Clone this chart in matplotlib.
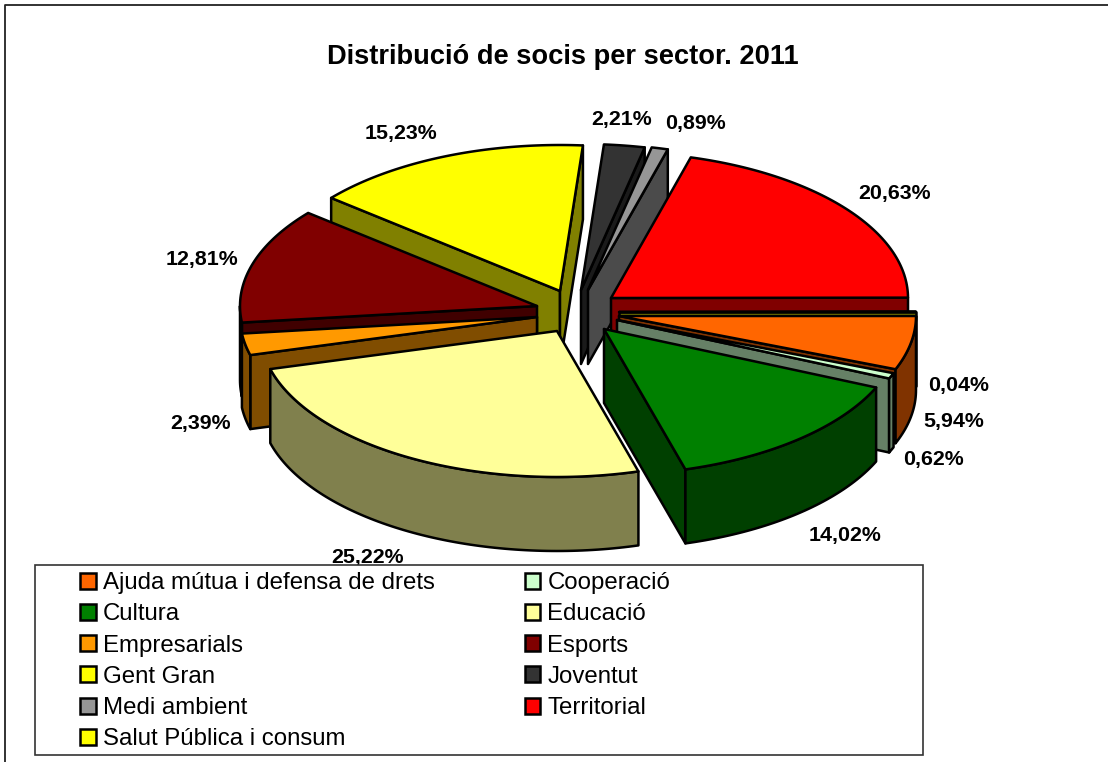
import numpy as np
import matplotlib
matplotlib.use('Agg')
import matplotlib.pyplot as plt
from matplotlib.colors import to_rgb
from matplotlib.patches import Patch, Polygon, Rectangle

plt.rcParams['font.family'] = ['Liberation Sans', 'DejaVu Sans']

sectors = ['Ajuda mútua i defensa de drets', 'Cooperació', 'Cultura', 'Educació',
           'Empresarials', 'Esports', 'Gent Gran', 'Joventut', 'Medi ambient',
           'Territorial', 'Salut Pública i consum']
shares = [5.94, 0.62, 14.02, 25.22, 2.39, 12.81, 15.23, 2.21, 0.89, 20.63, 0.04]
colors = ['#FF6600', '#CCFFCC', '#008000', '#FFFF99', '#FF9900', '#800000',
          '#FFFF00', '#333333', '#969696', '#FF0000', '#FFFF00']

# layout in pixels: where each exploded slice has its tip, and its label centre
tips = [(619, 316), (617, 320), (604, 329), (557, 331), (537, 317), (537, 306),
        (560, 291), (581, 290), (588, 290), (611, 298), (619, 312)]
label_pos = [(954, 421), (934, 459), (845, 536), (368, 557), (201, 423), (202, 259),
             (401, 134), (622, 120), (695, 123), (895, 194), (959, 386)]
draw_order = [7, 8, 6, 9, 10, 0, 1, 5, 4, 2, 3]
legend_order = [0, 2, 4, 6, 8, 10, 1, 3, 5, 7, 9]

RX, RY, DEPTH = 297, 146, 74
LW = 1.8


def rim(tip, a, b):
    t = np.radians(np.linspace(a, b, max(2, int(abs(b - a)) + 2)))
    return np.column_stack([tip[0] + RX * np.cos(t), tip[1] + RY * np.sin(t)])


def wall(ax, pts, colour):
    low = pts[::-1] + [0, DEPTH]
    ax.add_patch(Polygon(np.vstack([pts, low]), closed=True, fc=colour, ec='black',
                         lw=LW, joinstyle='round', zorder=2))


def slice3d(ax, tip, a, b, colour):
    dark = tuple(c * 0.5 for c in to_rgb(colour))
    tip_pt = np.array([tip], dtype=float)
    if np.cos(np.radians(a)) < 0:
        wall(ax, np.vstack([tip_pt, rim(tip, a, a)[:1]]), dark)
    if np.cos(np.radians(b)) > 0:
        wall(ax, np.vstack([tip_pt, rim(tip, b, b)[:1]]), dark)
    # outer wall, only the part of the rim that faces the viewer
    lo, hi = max(a, 0), min(b, 180)
    if hi > lo:
        wall(ax, rim(tip, lo, hi), dark)
    ax.add_patch(Polygon(np.vstack([tip_pt, rim(tip, a, b)]), closed=True, fc=colour,
                         ec='black', lw=LW, joinstyle='round', zorder=2))


fig = plt.figure(figsize=(11.08, 7.62), dpi=100)
ax = fig.add_axes([0, 0, 1, 1])
ax.set_xlim(0, 1108)
ax.set_ylim(762, 0)
ax.axis('off')

# chart frame, only top and left are inside the picture
ax.plot([5, 5, 1108], [762, 5, 5], color='#222222', lw=1.3, zorder=1)

ax.text(563, 57, 'Distribució de socis per sector. 2011', fontsize=19.6,
        fontweight='bold', ha='center', va='center')

edges = np.cumsum([0] + shares) * 3.6
for i in draw_order:
    slice3d(ax, tips[i], edges[i], edges[i + 1], colors[i])

for value, pos in zip(shares, label_pos):
    ax.text(pos[0], pos[1], f'{value:.2f}%'.replace('.', ','), fontsize=15.4,
            fontweight='bold', ha='center', va='center', zorder=3)

ax.add_patch(Rectangle((35, 565), 888, 190, fc='white', ec='#333333', lw=1.2, zorder=4))

handles = [Patch(fc=colors[i], ec='black', lw=LW) for i in legend_order]
names = [sectors[i] for i in legend_order]
leg = ax.legend(handles, names, ncol=2, loc='upper left', bbox_to_anchor=(80, 572),
                bbox_transform=ax.transData, frameon=False, fontsize=17.3, borderpad=0,
                borderaxespad=0, handlelength=0.65, handleheight=0.65, handletextpad=0.3,
                labelspacing=0.385, columnspacing=3.74)
leg.set_zorder(5)

fig.savefig('out.png', dpi=100)
